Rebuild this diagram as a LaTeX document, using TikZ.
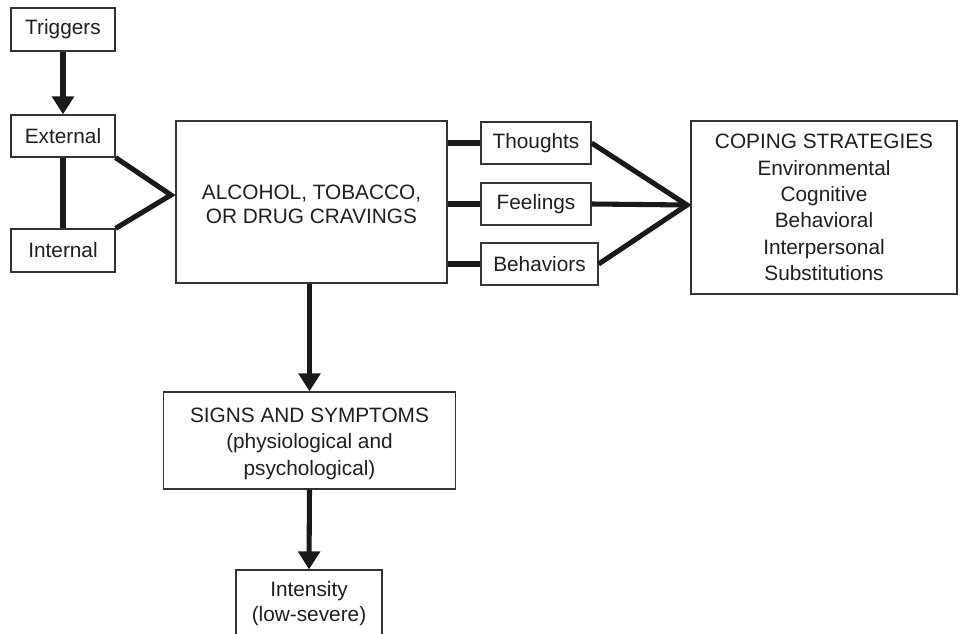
\documentclass[tikz,border=0pt]{standalone}
\usepackage{fontspec}
\setmainfont{Liberation Sans}
\usetikzlibrary{arrows.meta}
\newcommand\lowtext[2]{\raisebox{-#1}[\height][\depth]{\begin{tabular}{@{}c@{}}#2\end{tabular}}}
\begin{document}
\begin{tikzpicture}[x=0.75pt,y=-0.75pt,
  box/.style={draw=black!80, line width=0.9pt, rectangle, inner sep=0pt, align=center,
    font=\fontsize{15.6}{18}\selectfont, text=black!88},
  conn/.style={line width=3.8pt, draw=black!90, line join=miter},
  arr/.style={conn, -{Triangle[width=16pt,length=13.5pt]}}]
\clip (0,0) rectangle (960,634);
\fill[white] (0,0) rectangle (960,634);

\node[box, minimum width=78pt, minimum height=32.25pt] (trig) at (63,29.5) {Triggers};
\node[box, minimum width=78pt, minimum height=31.5pt] (ext) at (63,136) {External};
\node[box, minimum width=78pt, minimum height=32.25pt] (int) at (63,250.5) {Internal};
\node[box, minimum width=203.25pt, minimum height=121.5pt] (main) at (311.5,202)
  {\lowtext{3.75pt}{ALCOHOL, TOBACCO,\\OR DRUG CRAVINGS}};
\node[box, minimum width=82.5pt, minimum height=31.5pt] (th) at (536,143) {Thoughts};
\node[box, minimum width=82.5pt, minimum height=31.5pt] (fe) at (536,204) {Feelings};
\node[box, minimum width=87.75pt, minimum height=31.5pt] (be) at (539.5,264) {Behaviors};
\node[box, minimum width=199.5pt, minimum height=129.75pt,
  font=\fontsize{15.6}{19.8}\selectfont] (cop) at (824,207.5)
  {\lowtext{1.5pt}{COPING STRATEGIES\\Environmental\\Cognitive\\Behavioral\\Interpersonal\\Substitutions}};
\node[box, minimum width=219pt, minimum height=72.75pt,
  font=\fontsize{15.6}{19.9}\selectfont] (sig) at (309.5,440.5)
  {\lowtext{2.25pt}{SIGNS AND SYMPTOMS\\(physiological and\\psychological)}};
\node[box, minimum width=109.5pt, minimum height=51pt,
  font=\fontsize{15.6}{18.75}\selectfont] (inten) at (309,604)
  {Intensity\\(low-severe)};

\coordinate (apexL) at (171,195);
\coordinate (apexR) at (687,205);

\draw[arr] (trig.south) -- (ext.north);
\draw[conn] (ext.south) -- (int.north);
\draw[conn] (ext.south east) -- (apexL) -- (int.north east);
\draw[conn] (main.east |- th.west) -- (th.west);
\draw[conn] (main.east |- fe.west) -- (fe.west);
\draw[conn] (main.east |- be.west) -- (be.west);
\draw[conn] (th.east) -- (apexR) -- (be.east);
\draw[conn] (fe.east) -- (apexR);
\draw[arr] (sig.north |- main.south) -- (sig.north);
\draw[arr] (sig.south) -- (inten.north);
\end{tikzpicture}
\end{document}
